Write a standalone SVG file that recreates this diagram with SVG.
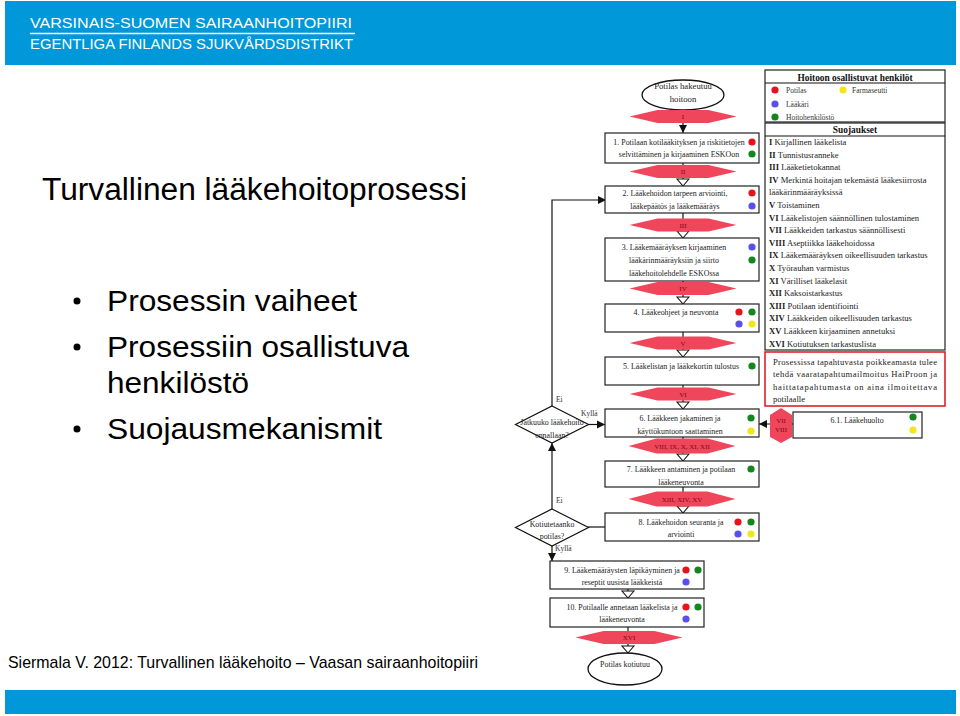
<svg xmlns="http://www.w3.org/2000/svg" xmlns:xlink="http://www.w3.org/1999/xlink" width="960" height="716" viewBox="0 0 960 716">
<style>
.band{fill:#0098d8}
.hd{font-family:"Liberation Sans",Arial,sans-serif;font-size:14px;fill:#fff}
.ttl{font-family:"Liberation Sans",Arial,sans-serif;font-size:31px;fill:#000}
.bul{font-family:"Liberation Sans",Arial,sans-serif;font-size:30px;fill:#000}
.ft{font-family:"Liberation Sans",Arial,sans-serif;font-size:17px;fill:#000}
.box{fill:#fff;stroke:#222;stroke-width:1.2}
.hex{fill:#f0465c}
.ht{font-family:"Liberation Serif","Times New Roman",serif;font-size:7px;fill:#7a0a12;text-anchor:middle}
.t{font-family:"Liberation Serif","Times New Roman",serif;font-size:7.9px;fill:#222;text-anchor:middle}
.te{font-family:"Liberation Serif","Times New Roman",serif;font-size:8.7px;fill:#222;text-anchor:middle}
.lg{font-family:"Liberation Serif","Times New Roman",serif;font-size:7.5px;fill:#333}
.st{font-family:"Liberation Serif","Times New Roman",serif;font-size:8.6px;fill:#222}
.ph{font-family:"Liberation Serif","Times New Roman",serif;font-size:9.4px;font-weight:bold;fill:#111;text-anchor:middle}
.pan{fill:#fff;stroke:#222;stroke-width:1.2}
.ln{stroke:#111;stroke-width:1.2;fill:none}
.r{fill:#e8121c}.g{fill:#14861e}.b{fill:#5a4fe8}.y{fill:#f3e51c}
</style>
<defs>
<marker id="af" markerUnits="userSpaceOnUse" markerWidth="10" markerHeight="10" refX="8" refY="4" orient="auto" overflow="visible"><path d="M0,0 L8,4 L0,8 z" fill="#111"/></marker>
<marker id="ao" markerUnits="userSpaceOnUse" markerWidth="10" markerHeight="14" refX="7" refY="6" orient="auto" overflow="visible"><path d="M0,0 L7,6 L0,12 z" fill="#fff" stroke="#111" stroke-width="1.1"/></marker>
<polygon id="hx" points="-53.5,0 -25.5,-6.5 25.5,-6.5 53.5,0 25.5,6.5 -25.5,6.5"/>
<polygon id="hx2" points="-53.5,0 -25.5,-7.5 25.5,-7.5 53.5,0 25.5,7.5 -25.5,7.5"/>
</defs>
<rect width="960" height="716" fill="#fff"/>
<g id="header">
<rect class="band" x="5" y="1" width="951" height="64"/>
<text class="hd" x="30" y="28" textLength="322" lengthAdjust="spacingAndGlyphs">VARSINAIS-SUOMEN SAIRAANHOITOPIIRI</text>
<line x1="30" y1="33.5" x2="355" y2="33.5" stroke="#fff" stroke-width="1.5"/>
<text class="hd" x="30" y="49" textLength="323" lengthAdjust="spacingAndGlyphs">EGENTLIGA FINLANDS SJUKVÅRDSDISTRIKT</text>
</g>
<g id="slidetext">
<text class="ttl" x="42" y="200" textLength="425" lengthAdjust="spacingAndGlyphs">Turvallinen lääkehoitoprosessi</text>
<circle cx="77" cy="301" r="3.5" fill="#000"/>
<text class="bul" x="107" y="311" textLength="250" lengthAdjust="spacingAndGlyphs">Prosessin vaiheet</text>
<circle cx="77" cy="347" r="3.5" fill="#000"/>
<text class="bul" x="107" y="357" textLength="302" lengthAdjust="spacingAndGlyphs">Prosessiin osallistuva</text>
<text class="bul" x="107" y="393" textLength="142" lengthAdjust="spacingAndGlyphs">henkilöstö</text>
<circle cx="77" cy="429" r="3.5" fill="#000"/>
<text class="bul" x="107" y="439" textLength="275" lengthAdjust="spacingAndGlyphs">Suojausmekanismit</text>
</g>
<g id="connectors">
<path class="ln" d="M683,110 V133" marker-end="url(#af)"/>
<path class="ln" d="M683,163 V186" marker-end="url(#ao)"/>
<path class="ln" d="M683,213 V238" marker-end="url(#ao)"/>
<path class="ln" d="M683,281 V304" marker-end="url(#ao)"/>
<path class="ln" d="M683,332 V357" marker-end="url(#ao)"/>
<path class="ln" d="M683,385 V409" marker-end="url(#ao)"/>
<path class="ln" d="M683,437 V461" marker-end="url(#ao)"/>
<path class="ln" d="M683,487 V513" marker-end="url(#ao)"/>
<path class="ln" d="M605,527 H588"/>
<path class="ln" d="M552,509 V443" marker-end="url(#af)"/>
<path class="ln" d="M588,424.5 H605" marker-end="url(#af)"/>
<path class="ln" d="M552,406 V200 H606" marker-end="url(#af)"/>
<path class="ln" d="M552,546 V561" marker-end="url(#af)"/>
<path class="ln" d="M628,589 V598" marker-end="url(#ao)"/>
<path class="ln" d="M628,627 V653" marker-end="url(#ao)"/>
<path class="ln" d="M793,424 H759" marker-end="url(#af)"/>
<text class="lg" x="556" y="402">Ei</text>
<text class="lg" x="581" y="416">Kyllä</text>
<text class="lg" x="556" y="503">Ei</text>
<text class="lg" x="555" y="551">Kyllä</text>
</g>
<g id="start">
<ellipse cx="683" cy="95" rx="41" ry="15" fill="#fff" stroke="#111" stroke-width="1.3"/>
<text class="te" x="683" y="89">Potilas hakeutuu</text>
<text class="te" x="683" y="101.5">hoitoon</text>
</g>
<g id="guards">
<use href="#hx" class="hex" x="683" y="116.5"/><text class="ht" x="683" y="119">I</text>
<use href="#hx" class="hex" x="683" y="171.5"/><text class="ht" x="683" y="174">II</text>
<use href="#hx" class="hex" x="683" y="225"/><text class="ht" x="683" y="227.5">III</text>
<use href="#hx" class="hex" x="683" y="288.5"/><text class="ht" x="683" y="291">IV</text>
<use href="#hx" class="hex" x="683" y="343"/><text class="ht" x="683" y="345.5">V</text>
<use href="#hx" class="hex" x="683" y="394"/><text class="ht" x="683" y="396.5">VI</text>
<use href="#hx2" class="hex" x="682" y="446"/><text class="ht" x="682" y="448.5">VIII, IX, X, XI, XII</text>
<use href="#hx2" class="hex" x="682" y="499"/><text class="ht" x="682" y="501.5">XIII, XIV, XV</text>
<use href="#hx" class="hex" x="629" y="637.5"/><text class="ht" x="629" y="640">XVI</text>
<polygon class="hex" points="781,408 792,415 792,437 781,443 770,437 770,415"/>
<text class="ht" x="781" y="422.5">VII</text>
<text class="ht" x="781" y="431.5">VIII</text>
</g>
<g id="step1">
<rect class="box" x="605" y="133" width="154" height="30"/>
<text class="t" x="679" y="144.5">1. Potilaan kotilääkityksen ja riskitietojen</text>
<text class="t" x="679" y="156.5">selvittäminen ja kirjaaminen ESKOon</text>
<circle class="r" cx="752" cy="142" r="3.6"/><circle class="g" cx="752" cy="154" r="3.6"/>
</g>
<g id="step2">
<rect class="box" x="605" y="186" width="154" height="27"/>
<text class="t" x="675" y="195.5">2. Lääkehoidon tarpeen arviointi,</text>
<text class="t" x="675" y="209">lääkepäätös ja lääkemääräys</text>
<circle class="r" cx="752" cy="193" r="3.6"/><circle class="b" cx="752" cy="206" r="3.6"/>
</g>
<g id="step3">
<rect class="box" x="605" y="238" width="154" height="43"/>
<text class="t" x="674" y="249.5">3. Lääkemääräyksen kirjaaminen</text>
<text class="t" x="674" y="262.5">lääkärinmääräyksiin ja siirto</text>
<text class="t" x="674" y="275.5">lääkehoitolehdelle ESKOssa</text>
<circle class="b" cx="752" cy="247" r="3.6"/><circle class="g" cx="752" cy="260" r="3.6"/>
</g>
<g id="step4">
<rect class="box" x="605" y="304" width="154" height="28"/>
<text class="t" x="676" y="314.5">4. Lääkeohjeet ja neuvonta</text>
<circle class="r" cx="739" cy="312" r="3.6"/><circle class="g" cx="752" cy="312" r="3.6"/>
<circle class="b" cx="739" cy="324" r="3.6"/><circle class="y" cx="752" cy="324" r="3.6"/>
</g>
<g id="step5">
<rect class="box" x="605" y="357" width="154" height="28"/>
<text class="t" x="681" y="368.5">5. Lääkelistan ja lääkekortin tulostus</text>
<circle class="g" cx="752" cy="366" r="3.6"/>
</g>
<g id="step6">
<rect class="box" x="605" y="409" width="154" height="28"/>
<text class="t" x="680" y="420.5">6. Lääkkeen jakaminen ja</text>
<text class="t" x="680" y="433.5">käyttökuntoon saattaminen</text>
<circle class="g" cx="751" cy="418" r="3.6"/><circle class="y" cx="751" cy="431" r="3.6"/>
</g>
<g id="step61">
<rect class="box" x="793" y="412" width="129" height="26"/>
<text class="t" x="857" y="422.5">6.1. Lääkehuolto</text>
<circle class="g" cx="913" cy="417" r="3.6"/><circle class="y" cx="913" cy="430" r="3.6"/>
</g>
<g id="step7">
<rect class="box" x="605" y="461" width="154" height="26"/>
<text class="t" x="681" y="471.5">7. Lääkkeen antaminen ja potilaan</text>
<text class="t" x="681" y="484.5">lääkeneuvonta</text>
<circle class="g" cx="751" cy="469" r="3.6"/>
</g>
<g id="step8">
<rect class="box" x="605" y="513" width="154" height="28"/>
<text class="t" x="681" y="524.5">8. Lääkehoidon seuranta ja</text>
<text class="t" x="681" y="536.5">arviointi</text>
<circle class="r" cx="738" cy="522" r="3.6"/><circle class="g" cx="751" cy="522" r="3.6"/>
<circle class="b" cx="738" cy="534" r="3.6"/><circle class="y" cx="751" cy="534" r="3.6"/>
</g>
<g id="decision1">
<polygon points="552,406 588.5,424.5 552,443 515.5,424.5" fill="#fff" stroke="#111" stroke-width="1.2"/>
<text class="t" x="552" y="424.5">Jatkuuko lääkehoito</text>
<text class="t" x="552" y="437.5">ennallaan?</text>
</g>
<g id="decision2">
<polygon points="552,509 588.5,527.5 552,546 515.5,527.5" fill="#fff" stroke="#111" stroke-width="1.2"/>
<text class="t" x="552" y="526.5">Kotiutetaanko</text>
<text class="t" x="552" y="538.5">potilas?</text>
</g>
<g id="step9">
<rect class="box" x="550" y="561" width="154" height="28"/>
<text class="t" x="622" y="572.5">9. Lääkemääräysten läpikäyminen ja</text>
<text class="t" x="622" y="584.5">reseptit uusista lääkkeistä</text>
<circle class="r" cx="686" cy="570" r="3.6"/><circle class="g" cx="698" cy="570" r="3.6"/>
<circle class="b" cx="686" cy="582" r="3.6"/>
</g>
<g id="step10">
<rect class="box" x="550" y="598" width="154" height="29"/>
<text class="t" x="622" y="609.5">10. Potilaalle annetaan lääkelista ja</text>
<text class="t" x="622" y="621.5">lääkeneuvonta</text>
<circle class="r" cx="686" cy="607" r="3.6"/><circle class="g" cx="698" cy="607" r="3.6"/>
<circle class="b" cx="686" cy="619" r="3.6"/>
</g>
<g id="end">
<ellipse cx="625" cy="669" rx="37" ry="16" fill="#fff" stroke="#111" stroke-width="1.3"/>
<text class="t" x="625" y="666.5">Potilas kotiutuu</text>
</g>
<g id="legend">
<rect class="pan" x="765" y="70" width="180" height="52"/>
<line class="ln" x1="765" y1="83" x2="945" y2="83"/>
<text class="ph" x="855" y="80.5">Hoitoon osallistuvat henkilöt</text>
<circle class="r" cx="775" cy="90" r="3.6"/><text class="lg" x="786" y="92.5">Potilas</text>
<circle class="y" cx="843" cy="90" r="3.6"/><text class="lg" x="852" y="92.5">Farmaseutti</text>
<circle class="b" cx="775" cy="104" r="3.6"/><text class="lg" x="786" y="106.5">Lääkäri</text>
<circle class="g" cx="775" cy="117" r="3.6"/><text class="lg" x="786" y="119.5">Hoitohenkilöstö</text>
</g>
<g id="safeguards">
<rect class="pan" x="765" y="123" width="180" height="227"/>
<line class="ln" x1="765" y1="136" x2="945" y2="136"/>
<text class="ph" x="855" y="133">Suojaukset</text>
<text class="st" x="769" y="145"><tspan font-weight="bold">I</tspan> Kirjallinen lääkelista</text>
<text class="st" x="769" y="157.6"><tspan font-weight="bold">II</tspan> Tunnistusranneke</text>
<text class="st" x="769" y="170.2"><tspan font-weight="bold">III</tspan> Lääketietokannat</text>
<text class="st" x="769" y="182.8"><tspan font-weight="bold">IV</tspan> Merkintä hoitajan tekemästä lääkesiirrosta</text>
<text class="st" x="769" y="195.4">lääkärinmääräyksissä</text>
<text class="st" x="769" y="208"><tspan font-weight="bold">V</tspan> Toistaminen</text>
<text class="st" x="769" y="220.6"><tspan font-weight="bold">VI</tspan> Lääkelistojen säännöllinen tulostaminen</text>
<text class="st" x="769" y="233.2"><tspan font-weight="bold">VII</tspan> Lääkkeiden tarkastus säännöllisesti</text>
<text class="st" x="769" y="245.8"><tspan font-weight="bold">VIII</tspan> Aseptiikka lääkehoidossa</text>
<text class="st" x="769" y="258.4"><tspan font-weight="bold">IX</tspan> Lääkemääräyksen oikeellisuuden tarkastus</text>
<text class="st" x="769" y="271"><tspan font-weight="bold">X</tspan> Työrauhan varmistus</text>
<text class="st" x="769" y="283.6"><tspan font-weight="bold">XI</tspan> Värilliset lääkelasit</text>
<text class="st" x="769" y="296.2"><tspan font-weight="bold">XII</tspan> Kaksoistarkastus</text>
<text class="st" x="769" y="308.8"><tspan font-weight="bold">XIII</tspan> Potilaan identifiointi</text>
<text class="st" x="769" y="321.4"><tspan font-weight="bold">XIV</tspan> Lääkkeiden oikeellisuuden tarkastus</text>
<text class="st" x="769" y="334"><tspan font-weight="bold">XV</tspan> Lääkkeen kirjaaminen annetuksi</text>
<text class="st" x="769" y="346.6"><tspan font-weight="bold">XVI</tspan> Kotiutuksen tarkastuslista</text>
</g>
<g id="notice">
<rect x="765" y="352" width="180" height="54" fill="#fff" stroke="#e0202a" stroke-width="1.6"/>
<text class="st" x="773" y="364.5" textLength="164" lengthAdjust="spacing">Prosessissa tapahtuvasta poikkeamasta tulee</text>
<text class="st" x="773" y="377" textLength="164" lengthAdjust="spacing">tehdä vaaratapahtumailmoitus HaiProon ja</text>
<text class="st" x="773" y="389.5" textLength="164" lengthAdjust="spacing">haittatapahtumasta on aina ilmoitettava</text>
<text class="st" x="773" y="402">potilaalle</text>
</g>
<g id="footer">
<text class="ft" x="8" y="668" textLength="470" lengthAdjust="spacingAndGlyphs">Siermala V. 2012: Turvallinen lääkehoito – Vaasan sairaanhoitopiiri</text>
<rect class="band" x="5" y="690" width="951" height="24"/>
</g>
</svg>
